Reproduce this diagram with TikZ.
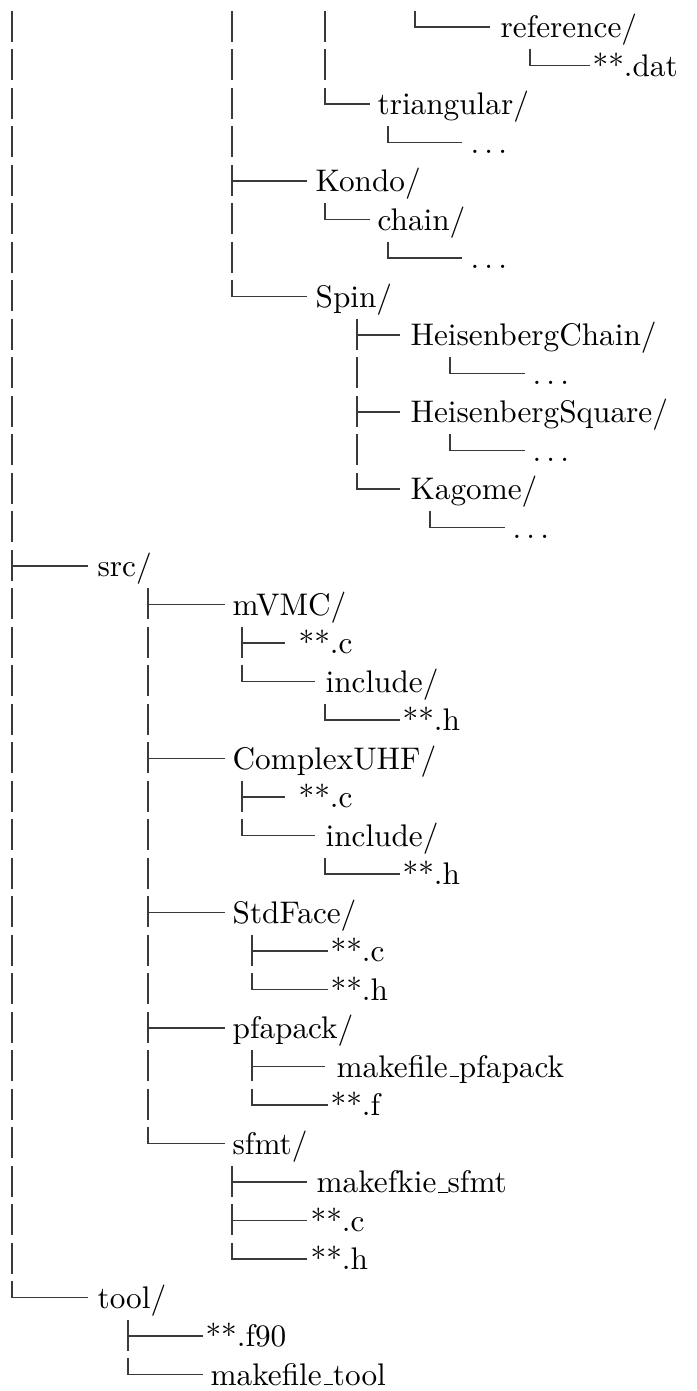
\documentclass[tikz,border=0pt]{standalone}
\usepackage{tikz}
\definecolor{TreeLine}{HTML}{3A3A3A}
\newcommand\usc{\leavevmode\kern.06em\vbox{\hrule width .3em}}

\begin{document}
\begin{tikzpicture}[x=0.32pt,y=-12.32pt,
    trunk/.style={TreeLine,line width=0.45pt},
    twig/.style={TreeLine,line width=0.4pt},
    entry/.style={anchor=west,inner sep=0pt,text height=9.5pt,text depth=2.5pt}]
  \useasboundingbox (0,-0.7013) rectangle (697,35.43);
  % plain bars, one piece per row
  \foreach \k in {0,...,13}
    \draw[trunk] (12,\k-0.42) -- (12,\k+0.39);
  \foreach \k in {15,...,32}
    \draw[trunk] (12,\k-0.42) -- (12,\k+0.39);
  \foreach \k in {0,1,2,3,5,6}
    \draw[trunk] (232,\k-0.42) -- (232,\k+0.39);
  \foreach \k in {0,1}
    \draw[trunk] (325,\k-0.42) -- (325,\k+0.39);
  \foreach \k in {9,11}
    \draw[trunk] (357,\k-0.42) -- (357,\k+0.39);
  \foreach \k in {16,17,18,20,21,22,24,25,27,28}
    \draw[trunk] (148,\k-0.42) -- (148,\k+0.39);
  % tee rows
  \foreach \k/\c/\e/\t/\lbl in {4/232/307/315/{Kondo/},
      8/357/400/410/{HeisenbergChain/}, 10/357/400/410/{HeisenbergSquare/},
      14/12/88/97/{src/}, 15/148/225/232/{mVMC/}, 16/242/285/298/{**.c},
      19/148/225/232/{ComplexUHF/}, 20/242/285/298/{**.c},
      23/148/225/232/{StdFace/}, 24/252/328/330/{**.c},
      26/148/225/232/{pfapack/}, 27/252/325/336/{makefile\usc pfapack},
      30/232/307/316/{makefkie\usc sfmt}, 31/232/307/310/{**.c},
      34/128/203/205/{**.f90}} {
    \coordinate (j\k) at (\c,\k);
    \coordinate (e\k) at (\e,\k);
    \node[entry] (n\k) at (\t,\k) {\lbl};
    \draw[twig] (j\k) ++(0,-0.42) -- ++(0,0.81) (j\k) -- (e\k);
  }
  % elbow rows
  \foreach \k/\c/\e/\t/\lbl in {0/415/490/500/{reference/},
      1/530/590/592/{**.dat}, 2/325/370/377/{triangular/},
      3/388/462/470/{$\ldots$}, 5/325/370/377/{chain/}, 6/388/462/470/{$\ldots$},
      7/232/307/315/{Spin/}, 9/450/525/532/{$\ldots$}, 11/450/525/532/{$\ldots$},
      12/357/400/410/{Kagome/}, 13/430/505/512/{$\ldots$},
      17/242/315/325/{include/}, 18/325/400/402/{**.h},
      21/242/315/325/{include/}, 22/325/400/402/{**.h},
      25/252/328/330/{**.h}, 28/252/328/330/{**.f},
      29/148/225/232/{sfmt/}, 32/232/307/310/{**.h},
      33/12/88/97/{tool/}, 35/128/203/210/{makefile\usc tool}} {
    \coordinate (j\k) at (\c,\k);
    \coordinate (e\k) at (\e,\k);
    \node[entry] (n\k) at (\t,\k) {\lbl};
    \draw[twig] (j\k) ++(0,-0.42) |- (e\k);
  }
\end{tikzpicture}
\end{document}
